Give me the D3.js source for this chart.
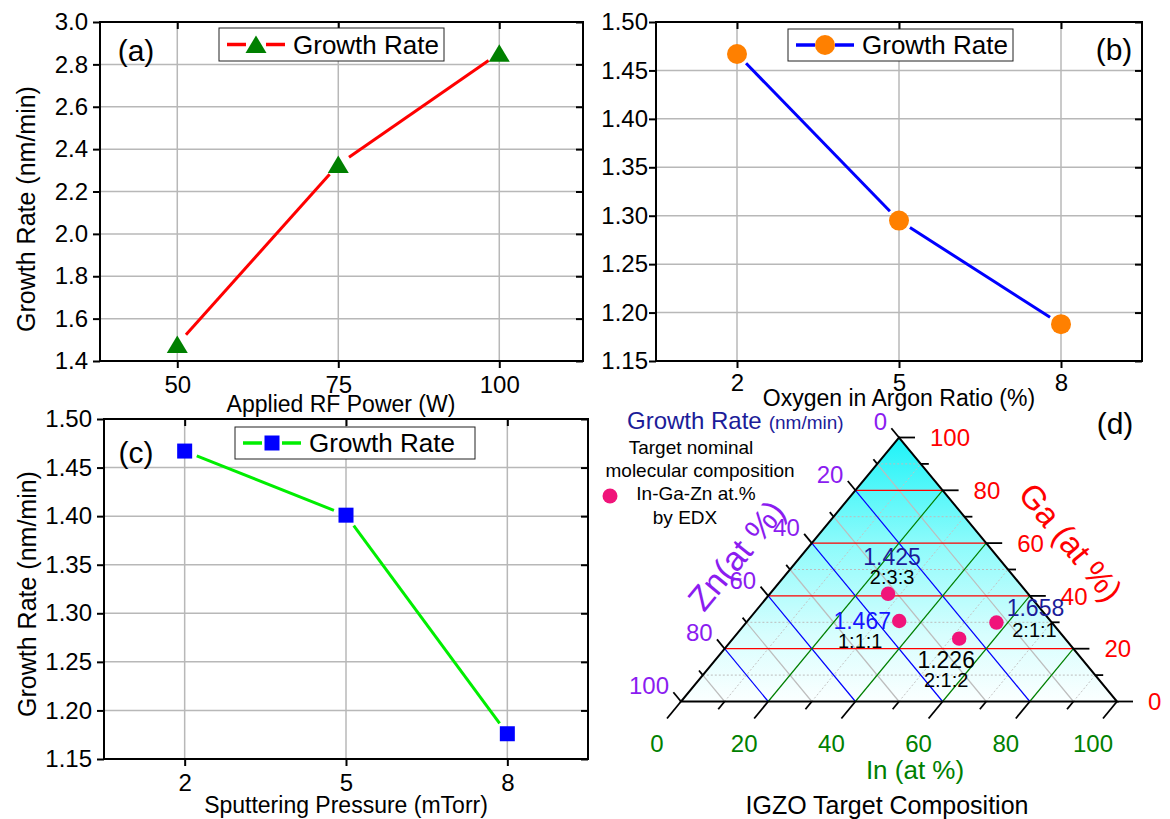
<!DOCTYPE html>
<html>
<head>
<meta charset="utf-8">
<script src="https://cdn.jsdelivr.net/npm/d3@7"></script>
<style>
  html, body { margin: 0; padding: 0; background: #fff; }
  svg { display: block; font-family: "Liberation Sans", Arial, sans-serif; }
</style>
</head>
<body>
<svg id="chart" width="1170" height="819"></svg>
<script>
// ---------- data ----------
// (a) growth rate vs applied RF power
const rfPower = [50, 75, 100];
const rateByPower = [1.478, 2.327, 2.853];
const powerRateTicks = [1.4, 1.6, 1.8, 2.0, 2.2, 2.4, 2.6, 2.8, 3.0];

// (b) growth rate vs oxygen in argon ratio
const oxygenRatio = [2, 5, 8];
const rateByOxygen = [1.467, 1.295, 1.188];

// (c) growth rate vs sputtering pressure
const sputterPressure = [2, 5, 8];
const rateByPressure = [1.467, 1.401, 1.176];

const fineRateTicks = [1.15, 1.20, 1.25, 1.30, 1.35, 1.40, 1.45, 1.50];

// (d) IGZO targets: EDX composition (at.%) and growth rate (nm/min)
const targetNames = ["2:3:3", "1:1:1", "2:1:2", "2:1:1"];
const edxIn = [27.1, 34.8, 51.9, 57.4];
const edxGa = [40.8, 30.5, 23.8, 29.9];
const edxZn = [32.1, 34.7, 24.3, 12.7];
const targetRate = [1.425, 1.467, 1.226, 1.658];
const ternaryMajor = [0, 20, 40, 60, 80, 100];
const ternaryMinor = [10, 30, 50, 70, 90];

// ---------- helpers ----------
const svg = d3.select("#chart");
svg.append("rect").attr("width", 1170).attr("height", 819).attr("fill", "#fff");

function trimmedSegments(pts, gap) {
  const segs = [];
  for (let i = 0; i < pts.length - 1; i++) {
    const [x1, y1] = pts[i], [x2, y2] = pts[i + 1];
    const len = Math.hypot(x2 - x1, y2 - y1);
    const ux = (x2 - x1) / len, uy = (y2 - y1) / len;
    segs.push([x1 + ux * gap, y1 + uy * gap, x2 - ux * gap, y2 - uy * gap]);
  }
  return segs;
}

function drawMarker(g, shape, cx, cy, color) {
  if (shape === "triangle") {
    g.append("path")
      .attr("d", `M${cx},${cy - 9}L${cx + 10.5},${cy + 8.5}L${cx - 10.5},${cy + 8.5}Z`)
      .attr("fill", color);
  } else if (shape === "circle") {
    g.append("circle").attr("cx", cx).attr("cy", cy).attr("r", 10).attr("fill", color);
  } else {
    g.append("rect").attr("x", cx - 7.5).attr("y", cy - 7.5)
      .attr("width", 15).attr("height", 15).attr("fill", color);
  }
}

function linePanel(c) {
  const g = svg.append("g");
  const x = d3.scaleLinear().domain(c.xDomain).range([c.left, c.right]);
  const y = d3.scaleLinear().domain(c.yDomain).range([c.bottom, c.top]);

  // grid
  g.selectAll("line.gx").data(c.xs).join("line").attr("class", "gx")
    .attr("x1", d => x(d)).attr("x2", d => x(d))
    .attr("y1", c.top).attr("y2", c.bottom)
    .attr("stroke", "#b8b8b8").attr("stroke-width", 1.5);
  g.selectAll("line.gy").data(c.yTicks).join("line").attr("class", "gy")
    .attr("x1", c.left).attr("x2", c.right)
    .attr("y1", d => y(d)).attr("y2", d => y(d))
    .attr("stroke", "#b8b8b8").attr("stroke-width", 1.5);

  // axes
  const styleAxis = sel => {
    sel.select(".domain").remove();
    sel.selectAll(".tick line").attr("stroke", "#000").attr("stroke-width", 2);
    sel.selectAll(".tick text").attr("fill", "#000").attr("font-size", 24)
      .attr("font-family", '"Liberation Sans", Arial, sans-serif');
  };
  g.append("g").attr("transform", `translate(0,${c.bottom})`)
    .call(d3.axisBottom(x).tickValues(c.xs).tickFormat(d3.format("d"))
      .tickSizeInner(7).tickSizeOuter(0).tickPadding(c.xPad))
    .call(styleAxis);
  g.append("g").attr("transform", `translate(${c.left},0)`)
    .call(d3.axisLeft(y).tickValues(c.yTicks).tickFormat(d3.format(c.yFmt))
      .tickSizeInner(7).tickSizeOuter(0).tickPadding(c.yPad))
    .call(styleAxis);
  g.append("g").attr("transform", `translate(0,${c.top})`)
    .call(d3.axisBottom(x).tickValues(c.xs).tickFormat("").tickSizeInner(7).tickSizeOuter(0))
    .call(styleAxis);
  g.append("g").attr("transform", `translate(${c.right},0)`)
    .call(d3.axisLeft(y).tickValues(c.yTicks).tickFormat("").tickSizeInner(7).tickSizeOuter(0))
    .call(styleAxis);

  // frame
  g.append("rect").attr("x", c.left).attr("y", c.top)
    .attr("width", c.right - c.left).attr("height", c.bottom - c.top)
    .attr("fill", "none").attr("stroke", "#000").attr("stroke-width", 2);

  // series
  const pts = c.xs.map((d, i) => [x(d), y(c.ys[i])]);
  trimmedSegments(pts, 13).forEach(s => {
    g.append("line").attr("x1", s[0]).attr("y1", s[1]).attr("x2", s[2]).attr("y2", s[3])
      .attr("stroke", c.lineColor).attr("stroke-width", 3);
  });
  pts.forEach(p => drawMarker(g, c.marker, p[0], p[1], c.markerColor));

  // legend
  const lg = c.legend;
  g.append("rect").attr("x", lg.x).attr("y", lg.y).attr("width", lg.w).attr("height", lg.h)
    .attr("fill", "#fff").attr("stroke", "#222").attr("stroke-width", 1);
  const ly = lg.y + lg.h / 2;
  g.append("line").attr("x1", lg.x + 8).attr("x2", lg.x + 27).attr("y1", ly).attr("y2", ly)
    .attr("stroke", c.lineColor).attr("stroke-width", 3.5);
  g.append("line").attr("x1", lg.x + 47).attr("x2", lg.x + 66).attr("y1", ly).attr("y2", ly)
    .attr("stroke", c.lineColor).attr("stroke-width", 3.5);
  drawMarker(g, c.marker, lg.x + 37, ly, c.markerColor);
  g.append("text").attr("x", lg.x + 74).attr("y", ly).attr("dy", "0.36em")
    .attr("font-size", 26).text("Growth Rate");

  // panel tag
  g.append("text").attr("x", c.tag.x).attr("y", c.tag.y).attr("dy", "0.36em")
    .attr("text-anchor", "middle").attr("font-size", 30).text(c.tag.t);

  // axis titles
  g.append("text").attr("x", c.xTitle.x).attr("y", c.xTitle.y).attr("dy", "0.36em")
    .attr("text-anchor", "middle").attr("font-size", 23).text(c.xTitle.t);
  if (c.yTitle) {
    g.append("text")
      .attr("transform", `translate(${c.yTitle.x},${c.yTitle.y}) rotate(-90)`)
      .attr("dy", "0.36em").attr("text-anchor", "middle").attr("font-size", 25)
      .text(c.yTitle.t);
  }
}

// ---------- panels (a), (b), (c) ----------
linePanel({
  left: 100, right: 583, top: 22, bottom: 361,
  xDomain: [38, 113], yDomain: [1.4, 3.0],
  xs: rfPower, ys: rateByPower, yTicks: powerRateTicks, yFmt: ".1f",
  xPad: 8, yPad: 5,
  lineColor: "#ff0000", marker: "triangle", markerColor: "#008000",
  legend: { x: 219, y: 28, w: 225, h: 33 },
  tag: { x: 136, y: 50, t: "(a)" },
  xTitle: { x: 341, y: 404, t: "Applied RF Power (W)" },
  yTitle: { x: 26, y: 209, t: "Growth Rate (nm/min)" }
});

linePanel({
  left: 656, right: 1142, top: 22, bottom: 361,
  xDomain: [0.5, 9.5], yDomain: [1.15, 1.50],
  xs: oxygenRatio, ys: rateByOxygen, yTicks: fineRateTicks, yFmt: ".2f",
  xPad: 6, yPad: 1,
  lineColor: "#0000ff", marker: "circle", markerColor: "#ff8000",
  legend: { x: 788, y: 29, w: 225, h: 32 },
  tag: { x: 1114, y: 49, t: "(b)" },
  xTitle: { x: 899, y: 398, t: "Oxygen in Argon Ratio (%)" }
});

linePanel({
  left: 104, right: 588, top: 419, bottom: 759,
  xDomain: [0.5, 9.5], yDomain: [1.15, 1.50],
  xs: sputterPressure, ys: rateByPressure, yTicks: fineRateTicks, yFmt: ".2f",
  xPad: 8, yPad: 5,
  lineColor: "#00ee00", marker: "square", markerColor: "#0000ff",
  legend: { x: 235, y: 427, w: 240, h: 32 },
  tag: { x: 136, y: 452, t: "(c)" },
  xTitle: { x: 346, y: 805, t: "Sputtering Pressure (mTorr)" },
  yTitle: { x: 27, y: 594, t: "Growth Rate (nm/min)" }
});

// ---------- panel (d): ternary In-Ga-Zn ----------
const tg = svg.append("g");
const baseX = d3.scaleLinear().domain([0, 100]).range([681, 1117]);   // In + Ga/2
const gaY = d3.scaleLinear().domain([0, 100]).range([701.5, 437.5]);  // Ga height
const tern = (inP, ga) => [baseX(inP + ga / 2), gaY(ga)];

const vBL = tern(0, 0), vBR = tern(100, 0), vT = tern(0, 100);
const unit = (a, b) => { const l = Math.hypot(b[0] - a[0], b[1] - a[1]); return [(b[0] - a[0]) / l, (b[1] - a[1]) / l]; };
const leftDir = unit(vBL, vT);   // bottom-left -> apex
const rightDir = unit(vT, vBR);  // apex -> bottom-right

const defs = svg.append("defs");
const grad = defs.append("linearGradient").attr("id", "cyanFade")
  .attr("x1", 0).attr("y1", 0).attr("x2", 0).attr("y2", 1);
grad.append("stop").attr("offset", "0%").attr("stop-color", "#1ef3f8");
grad.append("stop").attr("offset", "40%").attr("stop-color", "#8cfbfb");
grad.append("stop").attr("offset", "75%").attr("stop-color", "#d8fefe");
grad.append("stop").attr("offset", "100%").attr("stop-color", "#fbffff");

const triPath = d3.line()([vBL, vBR, vT]) + "Z";
tg.append("path").attr("d", triPath).attr("fill", "url(#cyanFade)");

// grid lines of constant Ga, Zn and In
const gaLine = c => [tern(0, c), tern(100 - c, c)];
const znLine = c => [tern(0, 100 - c), tern(100 - c, 0)];
const inLine = c => [tern(c, 0), tern(c, 100 - c)];
const drawGrid = (vals, fn, color, width, dash) => {
  vals.forEach(v => {
    const [a, b] = fn(v);
    tg.append("line").attr("x1", a[0]).attr("y1", a[1]).attr("x2", b[0]).attr("y2", b[1])
      .attr("stroke", color).attr("stroke-width", width)
      .attr("stroke-dasharray", dash || null);
  });
};
drawGrid(ternaryMinor, gaLine, "#bdbdbd", 1, "2,2");
drawGrid(ternaryMinor, inLine, "#c4c4c4", 1, "2,2");
drawGrid(ternaryMinor, znLine, "#bdbdbd", 1.2);
const inner = ternaryMajor.slice(1, -1);
drawGrid(inner, gaLine, "#ff0000", 1.2);
drawGrid(inner, znLine, "#0000ff", 1.2);
drawGrid(inner, inLine, "#008000", 1.2);

// triangle edges
tg.append("path").attr("d", triPath).attr("fill", "none")
  .attr("stroke", "#000").attr("stroke-width", 2).attr("stroke-linejoin", "miter");

// ticks
const tick = (p, dx, dy, len) => {
  tg.append("line").attr("x1", p[0]).attr("y1", p[1])
    .attr("x2", p[0] + dx * len).attr("y2", p[1] + dy * len)
    .attr("stroke", "#000").attr("stroke-width", 1.8);
};
ternaryMajor.forEach(t => {
  tick(tern(t, 0), -leftDir[0], -leftDir[1], 22);          // In (bottom)
  tick(tern(0, 100 - t), -rightDir[0], -rightDir[1], 12);  // Zn (left)
  tick(tern(100 - t, t), 1, 0, 16);                        // Ga (right)
});
ternaryMinor.forEach(t => {
  tick(tern(t, 0), -leftDir[0], -leftDir[1], 10);
  tick(tern(0, 100 - t), -rightDir[0], -rightDir[1], 6);
  tick(tern(100 - t, t), 1, 0, 8);
});

// tick labels
const inColor = "#008000", gaColor = "#ff0000", znColor = "#8b1cf0";
ternaryMajor.forEach(t => {
  const pi = tern(t, 0);
  tg.append("text").attr("x", pi[0] - 24).attr("y", 743).attr("dy", "0.36em")
    .attr("text-anchor", "middle").attr("font-size", 24).attr("fill", inColor).text(t);
  const pz = tern(0, 100 - t);
  tg.append("text").attr("x", pz[0] - 12).attr("y", pz[1] - 16).attr("dy", "0.36em")
    .attr("text-anchor", "end").attr("font-size", 24).attr("fill", znColor).text(t);
  const pg = tern(100 - t, t);
  tg.append("text").attr("x", pg[0] + 31).attr("y", pg[1]).attr("dy", "0.36em")
    .attr("text-anchor", "start").attr("font-size", 24).attr("fill", gaColor).text(t);
});

// axis titles
tg.append("text").attr("x", 915).attr("y", 770).attr("dy", "0.36em")
  .attr("text-anchor", "middle").attr("font-size", 26).attr("fill", inColor).text("In (at %)");
tg.append("text").attr("transform", "translate(736,555) rotate(-50.5)").attr("dy", "0.36em")
  .attr("text-anchor", "middle").attr("font-size", 34).attr("fill", znColor).text("Zn(at %)");
tg.append("text").attr("transform", "translate(1071,542) rotate(50.5)").attr("dy", "0.36em")
  .attr("text-anchor", "middle").attr("font-size", 33).attr("fill", gaColor).text("Ga (at %)");
tg.append("text").attr("x", 887).attr("y", 805).attr("dy", "0.36em")
  .attr("text-anchor", "middle").attr("font-size", 25).text("IGZO Target Composition");

// header and legend
const navy = "#1c1c99";
const hdr = tg.append("text").attr("x", 627).attr("y", 423).attr("dy", "0.36em").attr("fill", navy);
hdr.append("tspan").attr("font-size", 24).text("Growth Rate");
hdr.append("tspan").attr("font-size", 19).attr("dx", 7).text("(nm/min)");
tg.append("text").attr("x", 1115).attr("y", 423).attr("dy", "0.36em")
  .attr("text-anchor", "middle").attr("font-size", 30).text("(d)");

const legendLines = [
  { t: "Target nominal", x: 691, y: 447 },
  { t: "molecular composition", x: 700, y: 470 },
  { t: "In-Ga-Zn at.%", x: 696, y: 493 },
  { t: "by EDX", x: 685, y: 517 }
];
legendLines.forEach(l => {
  tg.append("text").attr("x", l.x).attr("y", l.y).attr("dy", "0.36em")
    .attr("text-anchor", "middle").attr("font-size", 19).text(l.t);
});
tg.append("circle").attr("cx", 610).attr("cy", 496).attr("r", 7.5).attr("fill", "#f0147a");

// EDX points with growth-rate and ratio labels
const rateColor = ["#1c1c99", "#1515ff", "#000000", "#1c1c99"];
const rateOffset = [[4, -37], [-37, 0], [-13, 21], [39, -15]];
const nameOffset = [[4, -17], [-39, 20], [-13, 41], [38, 7]];
const fmtRate = d3.format(".3f");
targetNames.forEach((name, i) => {
  const p = tern(edxIn[i], edxGa[i]);
  tg.append("circle").attr("cx", p[0]).attr("cy", p[1]).attr("r", 7.2).attr("fill", "#f0147a");
  tg.append("text").attr("x", p[0] + rateOffset[i][0]).attr("y", p[1] + rateOffset[i][1])
    .attr("dy", "0.36em").attr("text-anchor", "middle").attr("font-size", 23)
    .attr("fill", rateColor[i]).text(fmtRate(targetRate[i]));
  tg.append("text").attr("x", p[0] + nameOffset[i][0]).attr("y", p[1] + nameOffset[i][1])
    .attr("dy", "0.36em").attr("text-anchor", "middle").attr("font-size", 20)
    .attr("fill", "#000").text(name);
});
</script>
</body>
</html>
